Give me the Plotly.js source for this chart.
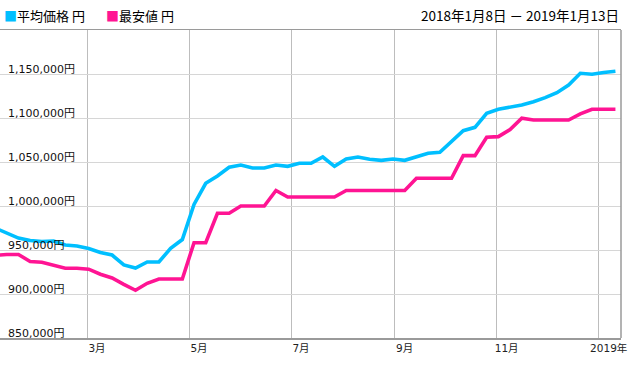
<!DOCTYPE html>
<html>
<head>
<meta charset="utf-8">
<script src="https://cdn.plot.ly/plotly-3.0.1.min.js"></script>
<style>html,body{margin:0;padding:0;background:#fff;}#chart{width:628px;height:365px;}</style>
</head>
<body>
<div id="chart"></div>
<script>
// Weekly observation dates (Fridays)
const dates = [
  "2018-01-05","2018-01-12","2018-01-19","2018-01-26","2018-02-02","2018-02-09","2018-02-16","2018-02-23",
  "2018-03-02","2018-03-09","2018-03-16","2018-03-23","2018-03-30","2018-04-06","2018-04-13","2018-04-20",
  "2018-04-27","2018-05-04","2018-05-11","2018-05-18","2018-05-25","2018-06-01","2018-06-08","2018-06-15",
  "2018-06-22","2018-06-29","2018-07-06","2018-07-13","2018-07-20","2018-07-27","2018-08-03","2018-08-10",
  "2018-08-17","2018-08-24","2018-08-31","2018-09-07","2018-09-14","2018-09-21","2018-09-28","2018-10-05",
  "2018-10-12","2018-10-19","2018-10-26","2018-11-02","2018-11-09","2018-11-16","2018-11-23","2018-11-30",
  "2018-12-07","2018-12-14","2018-12-21","2018-12-28","2019-01-04","2019-01-11"
];
// 平均価格 (average price, yen)
const avgPrice = [
  975000,969700,963600,960800,959700,960200,955700,954500,
  951700,947200,944300,933000,929500,936400,936400,951900,
  961900,1001700,1025800,1034100,1044000,1046600,1043200,1043200,
  1046600,1045100,1048500,1048500,1055700,1045100,1053400,1055700,
  1053100,1051900,1053400,1051900,1055700,1059900,1061000,1073300,
  1085600,1089400,1105300,1109900,1112200,1114800,1118500,1123100,
  1128800,1137500,1150800,1149700,1151700,1153100
];
// 最安値 (lowest price, yen)
const minPrice = [
  943800,944900,944900,936900,936000,932400,929300,929300,
  928200,922500,918200,911000,904200,912200,917000,917000,
  917000,958300,958300,991700,991700,1000000,1000000,1000000,
  1017600,1010200,1010200,1010200,1010200,1010200,1017600,1017600,
  1017600,1017600,1017600,1017600,1031500,1031500,1031500,1031500,
  1057200,1057200,1078100,1078800,1086900,1099700,1097700,1097700,
  1097700,1097700,1104600,1109900,1109900,1109900
];
const seriesNames = ["平均価格 円", "最安値 円"];
const seriesColors = ["#00bfff", "#ff1493"];
const xTickVals = ["2018-03-01","2018-05-01","2018-07-01","2018-09-01","2018-11-01","2019-01-01"];
const xTickText = ["3月","5月","7月","9月","11月","2019年"];
const yTickVals = [850000,900000,950000,1000000,1050000,1100000,1150000];
const yTickText = yTickVals.map(v => v.toLocaleString("en-US") + "円");
const periodText = "2018年1月8日 － 2019年1月13日";

const FONT = "DejaVu Sans, Noto Sans CJK JP, sans-serif";
const CJK = "Noto Sans CJK JP, DejaVu Sans, sans-serif";

const traces = [avgPrice, minPrice].map((vals, i) => ({
  x: dates, y: vals, type: "scatter", mode: "lines",
  name: seriesNames[i], showlegend: false,
  line: {color: seriesColors[i], width: 3.6, shape: "linear"},
  hoverinfo: "skip"
}));

const annotations = [];
let legX = [2, 104];
seriesNames.forEach((n, i) => {
  annotations.push({
    xref: "paper", yref: "paper", x: 0, y: 1, xshift: legX[i], yshift: 26,
    xanchor: "left", yanchor: "top", showarrow: false,
    text: "<span style='color:" + seriesColors[i] + "'>■</span>" + n,
    font: {family: CJK, size: 13, color: "#000"}
  });
});
annotations.push({
  xref: "paper", yref: "paper", x: 1, y: 1, xshift: 0, yshift: 27,
  xanchor: "right", yanchor: "top", showarrow: false,
  text: periodText, font: {family: CJK, size: 13.5, color: "#000"}
});

const layout = {
  width: 628, height: 365,
  margin: {l: 0, r: 7, t: 30, b: 27, pad: 0},
  paper_bgcolor: "#fff", plot_bgcolor: "#fff",
  showlegend: false,
  hovermode: false,
  xaxis: {
    type: "date",
    range: ["2018-01-07 23:15", "2019-01-14 08:00"],
    tickmode: "array", tickvals: xTickVals, ticktext: xTickText,
    ticks: "", showgrid: true, gridcolor: "#bdbdbd", gridwidth: 1,
    showline: true, linecolor: "#9a9a9a", linewidth: 1.5, mirror: true,
    zeroline: false,
    tickfont: {family: FONT, size: 10.5, color: "#222"},
    ticklabelshift: 10, ticklabeloverflow: "allow",
    fixedrange: true
  },
  yaxis: {
    range: [850000, 1200000],
    tickmode: "array", tickvals: yTickVals, ticktext: yTickText,
    ticks: "", showgrid: true, gridcolor: "#d6d6d6", gridwidth: 1,
    showline: false, zeroline: false,
    ticklabelposition: "inside", ticklabelshift: -5, ticklabelstandoff: 5,
    ticklabeloverflow: "allow",
    tickfont: {family: FONT, size: 11, color: "#111"},
    fixedrange: true
  },
  shapes: [{
    type: "line", xref: "paper", yref: "paper", x0: 1, x1: 1, y0: 0, y1: 1,
    line: {color: "#9a9a9a", width: 1.5}
  }],
  annotations: annotations
};

Plotly.newPlot("chart", traces, layout, {displayModeBar: false, staticPlot: true});
</script>
</body>
</html>
